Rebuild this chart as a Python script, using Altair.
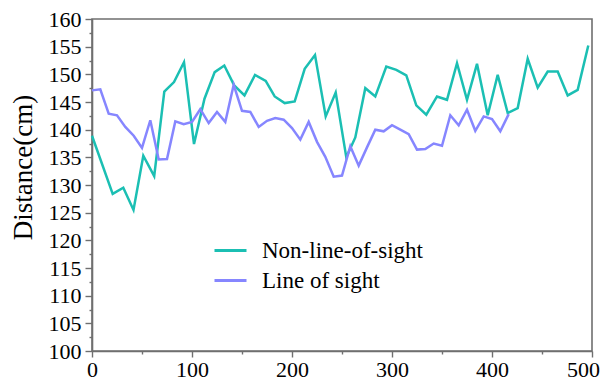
import altair as alt
import pandas as pd

series = ["Non-line-of-sight", "Line of sight"]
colors = ["#1BBFB3", "#8686FF"]

nlos_x = [0, 20.7, 31.3, 41.5, 51.3, 62.2, 72.3, 82.0, 92.0, 102.0, 112.5, 122.7, 132.3,
          142.2, 152.5, 163.0, 173.7, 182.7, 192.7, 202.7, 212.7, 223.0, 233.7, 243.7,
          254.3, 263.3, 273.3, 283.3, 294.3, 304.3, 314.3, 324.3, 334.3, 345.0, 355.0,
          365.0, 375.0, 385.0, 395.7, 405.7, 415.7, 425.7, 435.7, 445.7, 455.7, 465.7,
          475.7, 485.7, 496.3]
nlos_y = [138.9, 128.4, 129.5, 125.5, 135.3, 131.6, 146.9, 148.6, 152.2, 137.4, 145.6, 150.4,
          151.6, 148.0, 146.2, 149.9, 148.8, 146.0, 144.8, 145.1, 151.0, 153.5, 142.4, 146.7,
          135.0, 138.6, 147.5, 146.0, 151.4, 150.8, 149.8, 144.4, 142.7, 146.0, 145.4, 152.0,
          145.4, 151.9, 142.6, 149.9, 143.0, 143.9, 152.8, 147.6, 150.5, 150.5, 146.2, 147.2,
          155.2]

los_x = [0, 8.3, 16.7, 25.0, 33.3, 41.7, 50.0, 58.3, 66.7, 75.0, 83.3, 91.7, 100.0, 108.3,
         116.7, 125.0, 133.3, 141.7, 150.0, 158.3, 166.7, 175.0, 183.3, 191.7, 200.0, 208.3,
         216.7, 225.0, 233.3, 241.7, 250.0, 258.3, 266.7, 275.0, 283.3, 291.7, 300.0, 308.3,
         316.7, 325.0, 333.3, 341.7, 350.0, 358.3, 366.7, 375.0, 383.3, 391.7, 400.0, 408.3,
         416.7]
los_y = [147.1, 147.3, 142.9, 142.6, 140.5, 138.9, 136.7, 141.7, 134.6, 134.7, 141.5, 141.0,
         141.4, 143.7, 141.2, 143.2, 141.4, 148.1, 143.4, 143.2, 140.5, 141.6, 142.1, 141.8,
         140.3, 138.2, 141.4, 137.8, 135.1, 131.5, 131.7, 137.0, 133.5, 136.8, 140.0, 139.7,
         140.8, 140.0, 139.2, 136.4, 136.5, 137.5, 137.1, 142.6, 140.8, 143.6, 139.8, 142.4,
         141.9, 139.7, 142.8]

y_ticks = [100 + 2.5 * i for i in range(25)]
x_ticks = [50 * i for i in range(11)]

df_n = pd.DataFrame({"x": nlos_x, "y": nlos_y, "s": series[0]})
df_l = pd.DataFrame({"x": los_x, "y": los_y, "s": series[1]})

font = "Liberation Serif"
axis_color = "#6f6f6f"

x_enc = alt.X("x:Q", scale=alt.Scale(domain=[0, 500], nice=False, zero=False),
              axis=alt.Axis(values=x_ticks, title=None, format="d",
                            labelExpr="datum.value % 100 === 0 ? datum.label : ''",
                            tickSize={"condition": {"test": "datum.value % 100 === 0", "value": 6}, "value": 3},
                            labelOffset={"condition": {"test": "datum.value === 500", "value": -9}, "value": 0},
                            labelFlush=False, labelPadding=2, grid=False, labelOverlap=False))
y_enc = alt.Y("y:Q", scale=alt.Scale(domain=[100, 160], nice=False, zero=False),
              axis=alt.Axis(values=y_ticks, title="Distance(cm)",
                            labelExpr="datum.value % 5 === 0 ? datum.label : ''",
                            tickSize={"condition": {"test": "datum.value % 5 === 0", "value": 7}, "value": 3},
                            labelPadding=4, grid=False, titlePadding=11, titleY=148,
                            labelOverlap=False))

color_scale = alt.Scale(domain=series, range=colors)
legend = alt.Legend(title=None, orient="none", legendX=121, legendY=214,
                    symbolType="stroke", symbolSize=1024, symbolStrokeWidth=3,
                    labelFont=font, labelFontSize=23, labelColor="#000000",
                    labelOffset=14, rowPadding=-4, padding=0, labelLimit=400)

color_enc = alt.Color("s:N", scale=color_scale, legend=legend, sort=series)

line_n = alt.Chart(df_n).mark_line(strokeWidth=2.5).encode(x=x_enc, y=y_enc, color=color_enc)
line_l = alt.Chart(df_l).mark_line(strokeWidth=2.5).encode(x=x_enc, y=y_enc, color=color_enc)

chart = alt.layer(line_n, line_l).properties(
    width=500, height=332,
    background="white",
    autosize=alt.AutoSizeParams(type="none"),
    padding={"left": 84, "top": 11, "right": 8, "bottom": 30},
).configure_view(
    stroke=axis_color, strokeWidth=1.6
).configure_axis(
    domainColor=axis_color, domainWidth=1.6, tickColor=axis_color, tickWidth=1.4,
    labelFont=font, labelFontSize=22, labelColor="#000000",
    titleFont=font, titleFontSize=27, titleFontWeight="normal", titleColor="#000000",
)

chart.save("out.html", embed_options={"renderer": "svg", "actions": False})
